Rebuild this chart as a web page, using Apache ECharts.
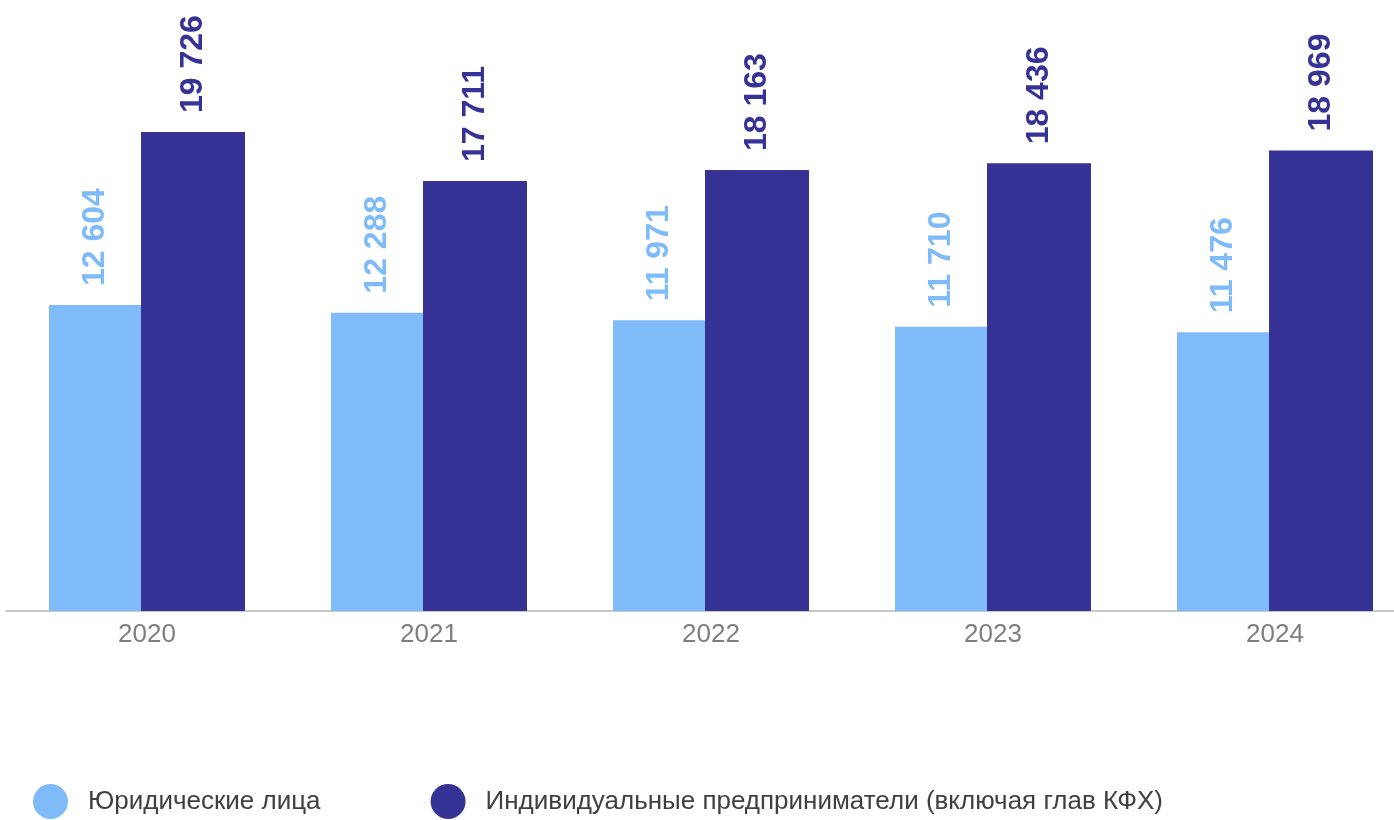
<!DOCTYPE html>
<html>
<head>
<meta charset="utf-8">
<script src="https://cdn.jsdelivr.net/npm/echarts@6/dist/echarts.min.js"></script>
<style>
  html, body { margin: 0; padding: 0; background: #fff; overflow: hidden; }
  /* the plot runs a little past the right edge of the window, as in the source */
  #chart { width: 1416px; height: 820px; }
</style>
</head>
<body>
<div id="chart"></div>
<script>
const years = ['2020', '2021', '2022', '2023', '2024'];
const seriesNames = ['Юридические лица', 'Индивидуальные предприниматели (включая глав КФХ)'];
const legalEntities = [12604, 12288, 11971, 11710, 11476];
const entrepreneurs = [19726, 17711, 18163, 18436, 18969];

const fmt = (v) => String(v).replace(/\B(?=(\d{3})+(?!\d))/g, ' ');
const FONT = "'Liberation Sans', Arial, sans-serif";

const myChart = echarts.init(document.getElementById('chart'));

const labelCfg = (color) => ({
    show: true,
    position: 'top',
    rotate: 90,
    align: 'left',
    verticalAlign: 'middle',
    distance: 19,
    color: color,
    fontFamily: FONT,
    fontWeight: 'bold',
    fontSize: 32,
    formatter: (p) => fmt(p.value)
});

const option = {
    backgroundColor: '#fff',
    animation: false,
    grid: { left: 6, right: 0, top: 4, bottom: 209, containLabel: false },
    legend: {
        data: seriesNames,
        left: 33,
        top: 784,
        padding: 0,
        icon: 'circle',
        itemWidth: 35,
        itemHeight: 35,
        itemGap: 110,
        textStyle: {
            color: '#404040',
            fontSize: 26,
            fontFamily: FONT,
            padding: [0, 0, 0, 15]
        }
    },
    xAxis: {
        type: 'category',
        data: years,
        axisLine: { show: true, lineStyle: { color: '#c8c8c8', width: 2 } },
        axisTick: { show: false },
        axisLabel: {
            color: '#7f7f7f',
            fontSize: 26,
            fontFamily: FONT,
            margin: 11
        }
    },
    yAxis: {
        type: 'value',
        min: 0,
        max: 25000,
        show: false,
        splitLine: { show: false }
    },
    series: [
        {
            name: seriesNames[0],
            type: 'bar',
            barWidth: 92,
            barGap: '0%',
            itemStyle: { color: '#7fbbf9' },
            label: labelCfg('#7fbbf9'),
            data: legalEntities
        },
        {
            name: seriesNames[1],
            type: 'bar',
            barWidth: 104,
            barGap: '0%',
            itemStyle: { color: '#373296' },
            label: labelCfg('#373296'),
            data: entrepreneurs
        }
    ]
};
myChart.setOption(option);
</script>
</body>
</html>
